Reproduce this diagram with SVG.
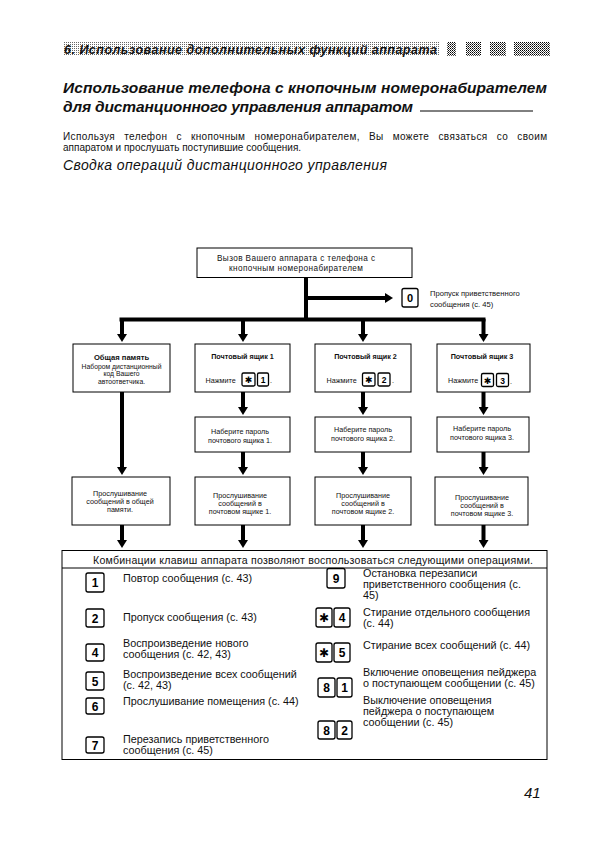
<svg xmlns="http://www.w3.org/2000/svg" width="595" height="842" viewBox="0 0 595 842">
<defs>
<pattern id="ht" width="2" height="2" patternUnits="userSpaceOnUse"><rect width="2" height="2" fill="#fff"/><rect width="1" height="1" fill="#666"/></pattern>
<pattern id="ht2" width="2" height="2" patternUnits="userSpaceOnUse"><rect width="2" height="2" fill="#fff"/><rect width="1" height="1" fill="#000"/><rect x="1" y="1" width="1" height="1" fill="#555"/></pattern>
<marker id="ah" markerUnits="userSpaceOnUse" markerWidth="10" markerHeight="10" viewBox="0 0 10 10" refX="0" refY="5" orient="auto"><path d="M0,0 L8,5 L0,10 z" fill="#000"/></marker>
</defs>
<style>
.s{font-family:"Liberation Sans",Arial,sans-serif;fill:#111}
.b{font-weight:bold}
.i{font-style:italic}
.f7{font-size:7.2px}
.f68{font-size:6.8px}
.f75{font-size:7.6px}
.f10{font-size:10.8px}
.box{fill:#fff;stroke:#000;stroke-width:1}
.key{fill:#fff;stroke:#000;stroke-width:1.3}
.kt{font-family:"Liberation Sans",Arial,sans-serif;font-weight:bold;fill:#000;text-anchor:middle}
.st{font-family:"DejaVu Sans","Liberation Sans",sans-serif;font-weight:bold;fill:#000;text-anchor:middle}
.thick{stroke:#000;stroke-width:4;fill:none}
.arr{stroke:#000;stroke-width:4;fill:none;marker-end:url(#ah)}
.m{text-anchor:middle}
</style>
<rect width="595" height="842" fill="#fff"/>

<g id="header">
<rect x="63" y="42" width="376" height="14" fill="url(#ht)"/>
<rect x="447" y="42" width="9" height="14" fill="url(#ht2)"/>
<rect x="466" y="42" width="15" height="14" fill="url(#ht2)"/>
<rect x="490" y="42" width="16" height="14" fill="url(#ht2)"/>
<rect x="514" y="42" width="36" height="14" fill="url(#ht2)"/>
<text class="s b i" x="64" y="53.5" font-size="12.5" textLength="373">6. Использование дополнительных функций аппарата</text>
</g>

<g id="title">
<text class="s b i" x="63" y="93" font-size="15.5" textLength="484">Использование телефона с кнопочным номеронабирателем</text>
<text class="s b i" x="63" y="111.5" font-size="15.5" textLength="350">для дистанционного управления аппаратом</text>
<line x1="420" y1="111" x2="533" y2="111" stroke="#000" stroke-width="1"/>
<text class="s" x="63" y="140" font-size="10" word-spacing="6" textLength="484">Используя телефон с кнопочным номеронабирателем, Вы можете связаться со своим</text>
<text class="s" x="63" y="150.5" font-size="10">аппаратом и прослушать поступившие сообщения.</text>
<text class="s i" x="63" y="170" font-size="14" textLength="324">Сводка операций дистанционного управления</text>
</g>

<g id="connectors">
<line class="thick" x1="306" y1="277" x2="306" y2="321"/>
<line class="arr" x1="306" y1="298" x2="385" y2="298"/>
<line class="thick" x1="119.5" y1="319.5" x2="485.5" y2="319.5"/>
<line class="arr" x1="122" y1="319" x2="122" y2="334"/>
<line class="arr" x1="243" y1="319" x2="243" y2="334"/>
<line class="arr" x1="363" y1="319" x2="363" y2="334"/>
<line class="arr" x1="483.5" y1="319" x2="483.5" y2="334"/>
<line class="arr" x1="122" y1="392" x2="122" y2="467"/>
<line class="arr" x1="243" y1="392" x2="243" y2="407"/>
<line class="arr" x1="363" y1="392" x2="363" y2="407"/>
<line class="arr" x1="483.5" y1="392" x2="483.5" y2="407"/>
<line class="arr" x1="243" y1="452" x2="243" y2="467"/>
<line class="arr" x1="363" y1="452" x2="363" y2="467"/>
<line class="arr" x1="483.5" y1="452" x2="483.5" y2="467"/>
<line class="arr" x1="122" y1="525" x2="122" y2="540"/>
<line class="arr" x1="243" y1="525" x2="243" y2="540"/>
<line class="arr" x1="363" y1="525" x2="363" y2="540"/>
<line class="arr" x1="483.5" y1="525" x2="483.5" y2="540"/>
</g>

<g id="call">
<rect class="box" x="197" y="248" width="215" height="29.5"/>
<text class="s m" font-size="8.2" x="296" y="260.5" textLength="158">Вызов Вашего аппарата с телефона с</text>
<text class="s m" font-size="8.2" x="296" y="270.5" textLength="134">кнопочным номеронабирателем</text>
</g>

<g id="skip0">
<rect class="key" x="402" y="288.5" width="16" height="18.5" rx="2"/>
<text class="kt" x="410" y="302" font-size="11">0</text>
<text class="s f75" x="430" y="296">Пропуск приветственного</text>
<text class="s f75" x="430" y="306.5">сообщения (с. 45)</text>
</g>

<g id="common">
<rect class="box" x="73" y="344" width="97" height="48"/>
<text class="s b f75 m" x="121.5" y="360">Общая память</text>
<text class="s f68 m" x="121.5" y="368.5">Набором дистанционный</text>
<text class="s f68 m" x="121.5" y="376">код Вашего</text>
<text class="s f68 m" x="121.5" y="383.5">автоответчика.</text>
</g>

<g id="mb1">
<rect class="box" x="195" y="344" width="95" height="48"/>
<text class="s b f7 m" x="242.5" y="358.5">Почтовый ящик 1</text>
<text class="s f7" x="205.5" y="382.5">Нажмите</text>
<rect class="key" x="242" y="373" width="13" height="13" rx="1.5"/>
<text class="st" x="248.5" y="383" font-size="9">✱</text>
<rect class="key" x="257.5" y="373" width="11" height="13" rx="1.5"/>
<text class="kt" x="263" y="383" font-size="8.5">1</text>
<text class="s f7" x="270" y="383">.</text>
</g>

<g id="mb2">
<rect class="box" x="315" y="344" width="96" height="48"/>
<text class="s b f7 m" x="365.5" y="358.5">Почтовый ящик 2</text>
<text class="s f7" x="326.5" y="382.5">Нажмите</text>
<rect class="key" x="362.5" y="373" width="12.5" height="13" rx="1.5"/>
<text class="st" x="368.8" y="383" font-size="9">✱</text>
<rect class="key" x="378" y="373" width="12" height="13" rx="1.5"/>
<text class="kt" x="384" y="383" font-size="8.5">2</text>
<text class="s f7" x="392" y="383">.</text>
</g>

<g id="mb3">
<rect class="box" x="437" y="344" width="93" height="48"/>
<text class="s b f7 m" x="482" y="359">Почтовый ящик 3</text>
<text class="s f7" x="448" y="383">Нажмите</text>
<rect class="key" x="481.5" y="373.5" width="12" height="13" rx="1.5"/>
<text class="st" x="487.5" y="383.5" font-size="9">✱</text>
<rect class="key" x="496.5" y="373.5" width="12" height="13" rx="1.5"/>
<text class="kt" x="502.5" y="383.5" font-size="8.5">3</text>
<text class="s f7" x="510" y="383.5">.</text>
</g>

<g id="pw1">
<rect class="box" x="195" y="417" width="95" height="35"/>
<text class="s f7 m" x="240" y="434">Наберите пароль</text>
<text class="s f7 m" x="240" y="442.5">почтового ящика 1.</text>
</g>
<g id="pw2">
<rect class="box" x="315" y="417" width="96" height="35"/>
<text class="s f7 m" x="363" y="432">Наберите пароль</text>
<text class="s f7 m" x="363" y="441">почтового ящика 2.</text>
</g>
<g id="pw3">
<rect class="box" x="437" y="417" width="92" height="35"/>
<text class="s f7 m" x="482" y="431">Наберите пароль</text>
<text class="s f7 m" x="482" y="439.5">почтового ящика 3.</text>
</g>

<g id="play0">
<rect class="box" x="72" y="477" width="98" height="48"/>
<text class="s f7 m" x="120" y="496">Прослушивание</text>
<text class="s f7 m" x="120" y="504">сообщений в общей</text>
<text class="s f7 m" x="120" y="512">памяти.</text>
</g>
<g id="play1">
<rect class="box" x="195" y="477" width="95" height="48"/>
<text class="s f7 m" x="240" y="497.5">Прослушивание</text>
<text class="s f7 m" x="240" y="505.5">сообщений в</text>
<text class="s f7 m" x="240" y="513.5">почтовом ящике 1.</text>
</g>
<g id="play2">
<rect class="box" x="315" y="477" width="96" height="48"/>
<text class="s f7 m" x="363" y="497.5">Прослушивание</text>
<text class="s f7 m" x="363" y="505.5">сообщений в</text>
<text class="s f7 m" x="363" y="513.5">почтовом ящике 2.</text>
</g>
<g id="play3">
<rect class="box" x="435" y="477" width="93" height="48"/>
<text class="s f7 m" x="482" y="500">Прослушивание</text>
<text class="s f7 m" x="482" y="508">сообщений в</text>
<text class="s f7 m" x="482" y="516">почтовом ящике 3.</text>
</g>

<g id="table">
<rect class="box" x="62" y="550.5" width="485" height="209"/>
<line x1="62" y1="568" x2="547" y2="568" stroke="#000" stroke-width="1"/>
<text class="s" font-size="10.6" x="93" y="564" textLength="440">Комбинации клавиш аппарата позволяют воспользоваться следующими операциями.</text>

<rect class="key" x="86" y="573" width="18" height="19" rx="2"/>
<text class="kt" x="95" y="587" font-size="12">1</text>
<text class="s f10" x="123" y="581.5">Повтор сообщения (с. 43)</text>

<rect class="key" x="86" y="609" width="18" height="18" rx="2"/>
<text class="kt" x="95" y="622.5" font-size="12">2</text>
<text class="s f10" x="123" y="621">Пропуск сообщения (с. 43)</text>

<rect class="key" x="86" y="644" width="18" height="17" rx="2"/>
<text class="kt" x="95" y="657" font-size="12">4</text>
<text class="s f10" x="123" y="646.5">Воспроизведение нового</text>
<text class="s f10" x="123" y="657.5">сообщения (с. 42, 43)</text>

<rect class="key" x="86" y="672" width="18" height="18" rx="2"/>
<text class="kt" x="95" y="685.5" font-size="12">5</text>
<text class="s f10" x="123" y="677.5">Воспроизведение всех сообщений</text>
<text class="s f10" x="123" y="688.5">(с. 42, 43)</text>

<rect class="key" x="86" y="698" width="18" height="16" rx="2"/>
<text class="kt" x="95" y="710.5" font-size="12">6</text>
<text class="s f10" x="123" y="705">Прослушивание помещения (с. 44)</text>

<rect class="key" x="86" y="737" width="18" height="16" rx="2"/>
<text class="kt" x="95" y="749.5" font-size="12">7</text>
<text class="s f10" x="123" y="743">Перезапись приветственного</text>
<text class="s f10" x="123" y="754">сообщения (с. 45)</text>

<rect class="key" x="327" y="568.5" width="18" height="19.5" rx="2"/>
<text class="kt" x="336" y="583" font-size="12">9</text>
<text class="s f10" x="363" y="577">Остановка перезаписи</text>
<text class="s f10" x="363" y="588">приветственного сообщения (с.</text>
<text class="s f10" x="363" y="599">45)</text>

<rect class="key" x="316" y="608" width="16" height="19" rx="2"/>
<text class="st" x="324" y="622" font-size="12">✱</text>
<rect class="key" x="334" y="608" width="16" height="19" rx="2"/>
<text class="kt" x="342" y="622" font-size="12">4</text>
<text class="s f10" x="363" y="616">Стирание отдельного сообщения</text>
<text class="s f10" x="363" y="627">(с. 44)</text>

<rect class="key" x="316" y="643" width="16" height="19" rx="2"/>
<text class="st" x="324" y="657" font-size="12">✱</text>
<rect class="key" x="334" y="643" width="16" height="19" rx="2"/>
<text class="kt" x="342" y="657" font-size="12">5</text>
<text class="s f10" x="363" y="648.5">Стирание всех сообщений (с. 44)</text>

<rect class="key" x="318" y="678" width="17" height="19" rx="2"/>
<text class="kt" x="326.5" y="692" font-size="12">8</text>
<rect class="key" x="337" y="678" width="15" height="19" rx="2"/>
<text class="kt" x="344.5" y="692" font-size="12">1</text>
<text class="s f10" x="363" y="676">Включение оповещения пейджера</text>
<text class="s f10" x="363" y="687">о поступающем сообщении (с. 45)</text>

<rect class="key" x="318" y="721" width="17" height="18" rx="2"/>
<text class="kt" x="326.5" y="734.5" font-size="12">8</text>
<rect class="key" x="337" y="721" width="15" height="18" rx="2"/>
<text class="kt" x="344.5" y="734.5" font-size="12">2</text>
<text class="s f10" x="363" y="704">Выключение оповещения</text>
<text class="s f10" x="363" y="715">пейджера о поступающем</text>
<text class="s f10" x="363" y="726">сообщении (с. 45)</text>
</g>

<text id="pagenum" class="s i" x="524" y="798" font-size="15">41</text>
</svg>
